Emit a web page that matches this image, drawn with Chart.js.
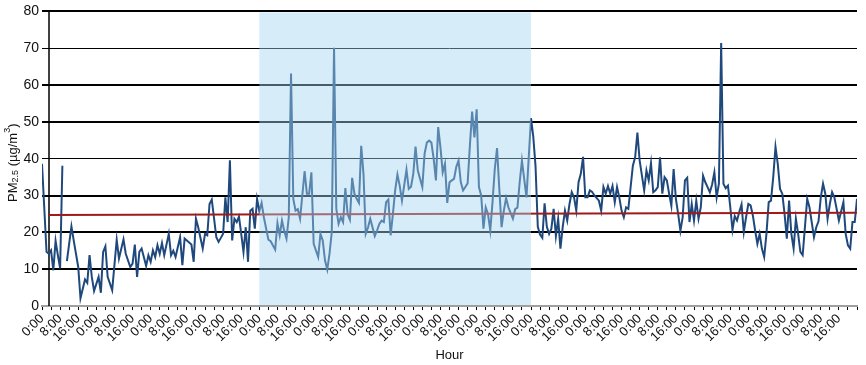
<!DOCTYPE html>
<html lang="en">
<head>
<meta charset="UTF-8">
<title>PM2.5 hourly concentration</title>
<script src="https://cdn.jsdelivr.net/npm/chart.js"></script>
<style>
  html, body { margin: 0; padding: 0; background: #fff; }
  #wrap { width: 866px; height: 365px; }
</style>
</head>
<body>
<div id="wrap"><canvas id="chart" width="866" height="365"></canvas></div>
<script>
// hour offsets since the first 0:00 and the PM2.5 reading at that hour (null = missing)
const hours = [
  0, 2, 3, 4, 5, 6, 7, 8, 9, 10, 11, 13, 14, 16, 17, 19, 20, 21, 22, 23,
  25, 26, 27, 28, 29, 31, 33, 34, 36, 37, 39, 40, 41, 42, 43, 44, 46, 47, 48, 49,
  50, 51, 52, 53, 54, 56, 57, 58, 59, 61, 62, 63, 66, 67, 68, 69, 71, 72, 73, 74,
  75, 77, 78, 79, 80, 81, 82, 83, 84, 85, 86, 87, 88, 89, 90, 91, 92, 93, 94, 95,
  96, 97, 98, 100, 101, 103, 104, 105, 106, 107, 108, 109, 110, 111, 112, 113, 114, 116, 117, 118,
  119, 120, 122, 123, 124, 125, 126, 127, 128, 129, 130, 131, 132, 133, 134, 135, 136, 137, 138, 139,
  140, 141, 142, 143, 144, 145, 147, 148, 149, 150, 151, 152, 153, 154, 155, 156, 157, 158, 159, 161,
  162, 163, 164, 165, 166, 168, 169, 170, 171, 172, 173, 174, 175, 176, 177, 178, 179, 180, 181, 182,
  183, 184, 185, 186, 187, 188, 189, 190, 191, 192, 193, 194, 195, 196, 197, 198, 199, 200, 201, 202,
  203, 204, 205, 206, 208, 209, 210, 211, 212, 214, 215, 216, 217, 218, 219, 220, 221, 222, 223, 224,
  225, 226, 227, 228, 229, 230, 231, 232, 233, 234, 235, 236, 237, 238, 239, 240, 241, 242, 243, 244,
  246, 247, 248, 249, 250, 251, 252, 253, 254, 255, 256, 257, 258, 259, 260, 261, 262, 263, 264, 266,
  267, 268, 269, 270, 271, 272, 273, 274, 275, 276, 277, 278, 279, 280, 281, 282, 283, 284, 285, 286,
  287, 288, 289, 290, 291, 292, 293, 294, 295, 296, 297, 298, 299, 300, 301, 302, 303, 304, 305, 306,
  307, 308, 309, 310, 311, 312, 313, 314, 315, 316, 317, 318, 319, 320, 321, 322, 323, 324, 325, 326,
  327, 328, 329, 330, 331, 332, 333, 334, 335, 336, 337, 338, 339, 341, 342, 343, 344, 345, 346, 347,
  348, 349, 350, 352, 354, 355, 356, 357, 358, 359, 360
];
const pm25 = [
  38.6, 14.7, 14.2, 15.1, 9.7, 17.7, 13.8, 10.2, 38.1, null, 12.2, 21.6, 17.8, 10.6, 2.1, 7.2, 6.3, 13.8, 7.9, 4.1,
  7.9, 3.6, 14.7, 16.2, 7.9, 4.3, 18.0, 12.9, 18.1, 14.2, 10.6, 11.5, 16.7, 7.9, 14.7, 15.6, 10.9, 13.8, 12.0, 15.1,
  13.3, 16.5, 14.2, 17.1, 13.8, 19.6, 13.8, 15.0, 13.3, 18.7, 11.1, 18.3, 16.7, 12.0, 23.7, 21.4, 15.6, 19.6, 19.2, 27.7,
  28.9, 18.7, 17.4, 18.5, 19.6, 29.5, 22.8, 39.6, 17.8, 23.7, 22.8, 24.3, 19.6, 14.7, 21.4, 12.0, 25.9, 26.4, 21.0, 29.1,
  25.8, 28.0, 24.1, 18.0, 17.6, 15.3, 22.5, 19.2, 23.2, 20.4, 18.3, 24.1, 63.1, 29.1, 25.9, 26.3, 23.7, 36.6, 30.5, 30.5,
  36.3, 16.9, 13.3, 19.6, 17.8, 12.4, 9.9, 14.2, 20.1, 70.1, 26.4, 22.3, 24.1, 22.8, 32.0, 24.9, 23.4, 34.8, 30.5, 29.1,
  28.0, 43.5, 35.9, 19.6, 21.3, 23.7, 19.0, 20.5, 22.3, 23.2, 22.8, 28.2, 28.9, 19.2, 25.0, 31.4, 35.7, 32.7, 28.6, 37.0,
  31.8, 32.4, 35.9, 43.3, 36.8, 32.3, 41.4, 44.4, 44.9, 44.4, 40.0, 34.1, 48.6, 43.1, 36.3, 38.6, 28.0, 33.6, 34.1, 34.5,
  37.8, 39.5, 33.6, 31.4, 32.3, 33.3, 43.5, 52.8, 45.8, 53.4, 32.3, 30.0, 21.0, 26.8, 25.0, 20.5, 28.2, 37.2, 42.9, 31.8,
  21.4, 25.9, 29.3, 26.8, 23.7, 26.3, 26.7, 33.6, 39.5, 29.5, 40.4, 51.0, 46.0, 38.0, 21.5, 19.4, 18.5, 27.9, 21.5, 19.6,
  21.0, 26.4, 19.0, 23.7, 15.6, 21.4, 25.9, 23.2, 27.7, 30.9, 29.5, 25.9, 33.6, 35.9, 40.5, 29.5, 29.5, 31.4, 31.0, 30.0,
  28.6, 25.9, 32.3, 30.5, 32.6, 30.5, 32.6, 28.2, 32.3, 29.5, 25.9, 24.1, 26.8, 26.4, 32.3, 38.1, 40.4, 47.1, 39.5, 31.4,
  36.8, 34.1, 38.8, 30.9, 31.4, 32.3, 40.4, 30.5, 35.0, 34.1, 30.5, 27.2, 37.2, 29.1, 25.0, 20.4, 24.1, 34.1, 34.8, 22.8,
  27.7, 23.2, 28.6, 23.7, 26.8, 35.4, 33.6, 32.3, 30.9, 33.0, 36.3, 29.5, 33.2, 71.4, 33.2, 32.0, 32.7, 27.0, 20.7, 24.4,
  23.2, 25.5, 27.6, 20.1, 24.1, 27.7, 27.3, 24.6, 20.5, 16.9, 19.6, 15.6, 13.3, 19.6, 28.2, 28.6, 35.0, 43.2, 38.6, 31.8,
  30.5, 25.0, 18.3, 28.6, 19.6, 15.6, 23.7, 19.6, 14.7, 13.8, 21.4, 29.1, 26.8, 18.7, 21.4, 23.0, 29.5, 33.2, 30.5, 23.7,
  27.7, 30.9, 29.5, 23.2, 28.2, 19.6, 16.5, 15.6, 22.8, 22.8, 29.1
];

// linear trend of the series (start / end)
const trendHours = [3, 360];
const trendValues = [24.7, 25.3];

// highlighted period (hours)
const shadeHours = [96, 216];
// hour at which the vertical axis line crosses
const axisCrossHour = 3;

const yTicks = [0, 10, 20, 30, 40, 50, 60, 70, 80];
const hourLabels = ['0:00', '8:00', '16:00'];

const FONT = "'Liberation Sans', Arial, sans-serif";

const extras = {
  id: 'extras',
  beforeDatasetsDraw(chart) {
    const { ctx, chartArea, scales: { x } } = chart;
    const ax = Math.round(x.getPixelForValue(axisCrossHour));
    ctx.save();
    ctx.strokeStyle = '#000';
    ctx.lineWidth = 1.5;
    ctx.beginPath();
    ctx.moveTo(ax, chartArea.top);
    ctx.lineTo(ax, chartArea.bottom);
    ctx.stroke();
    ctx.restore();
  },
  afterDatasetsDraw(chart) {
    const { ctx, scales: { x, y } } = chart;
    const x0 = x.getPixelForValue(shadeHours[0]);
    const x1 = x.getPixelForValue(shadeHours[1]);
    const top = y.getPixelForValue(80) + 1;
    const bottom = y.getPixelForValue(0) - 1;
    ctx.save();
    ctx.fillStyle = 'rgba(161, 212, 239, 0.44)';
    ctx.fillRect(x0, top, x1 - x0, bottom - top);
    ctx.restore();
  },
  afterDraw(chart) {
    // y-axis title with sub/superscripts
    const { ctx, chartArea } = chart;
    const big = '13px ' + FONT;
    const small = '9px ' + FONT;
    const parts = [
      { t: 'PM', f: big, dy: 0 },
      { t: '2.5', f: small, dy: 3 },
      { t: ' (µg/m', f: big, dy: 0 },
      { t: '3', f: small, dy: -5 },
      { t: ')', f: big, dy: 0 }
    ];
    ctx.save();
    let w = 0;
    parts.forEach(p => { ctx.font = p.f; p.w = ctx.measureText(p.t).width; w += p.w; });
    ctx.translate(13, (chartArea.top + chartArea.bottom) / 2 + 4);
    ctx.rotate(-Math.PI / 2);
    ctx.fillStyle = '#111';
    ctx.textBaseline = 'middle';
    let cx = -w / 2;
    parts.forEach(p => { ctx.font = p.f; ctx.fillText(p.t, cx, p.dy); cx += p.w; });
    ctx.restore();
  }
};

const points = hours.map((h, i) => ({ x: h, y: pm25[i] }));
const trend = trendHours.map((h, i) => ({ x: h, y: trendValues[i] }));

new Chart(document.getElementById('chart'), {
  type: 'line',
  data: {
    datasets: [
      {
        label: 'Trend',
        data: trend,
        borderColor: '#9e1b1b',
        borderWidth: 2,
        pointRadius: 0,
        fill: false
      },
      {
        label: 'PM2.5',
        data: points,
        borderColor: '#1f497d',
        borderWidth: 2,
        pointRadius: 0,
        tension: 0,
        spanGaps: false,
        fill: false
      }
    ]
  },
  options: {
    responsive: false,
    animation: false,
    layout: { padding: { top: 10, right: 9, bottom: 0, left: 0 } },
    plugins: { legend: { display: false }, tooltip: { enabled: false } },
    scales: {
      x: {
        type: 'linear',
        min: 0,
        max: 360,
        afterBuildTicks: s => {
          const t = [];
          for (let v = 0; v <= 360; v += 4) t.push({ value: v });
          s.ticks = t;
        },
        ticks: {
          autoSkip: false,
          minRotation: 45,
          maxRotation: 45,
          padding: 1,
          color: '#111',
          font: { family: FONT, size: 13 },
          callback: v => (v % 8 === 0 && v < 360) ? hourLabels[(v % 24) / 8] : ''
        },
        grid: { drawOnChartArea: false, color: '#000', tickLength: 4 },
        border: { color: '#a0a0a0', width: 2 },
        title: {
          display: true,
          text: 'Hour',
          color: '#111',
          font: { family: FONT, size: 13 },
          padding: { top: 0, bottom: 2 }
        },
        afterFit: s => { s.height = 59; s.paddingLeft = 0; s.paddingRight = 0; }
      },
      y: {
        min: 0,
        max: 80,
        afterBuildTicks: s => { s.ticks = yTicks.map(v => ({ value: v })); },
        ticks: { color: '#111', padding: 3, font: { family: FONT, size: 14 } },
        grid: {
          color: '#000',
          drawTicks: false,
          lineWidth: c => (c.tick && (c.tick.value === 70 || c.tick.value === 40)) ? 1 : 2
        },
        border: { display: false },
        afterFit: s => { s.width = 42; }
      }
    }
  },
  plugins: [extras]
});
</script>
</body>
</html>
